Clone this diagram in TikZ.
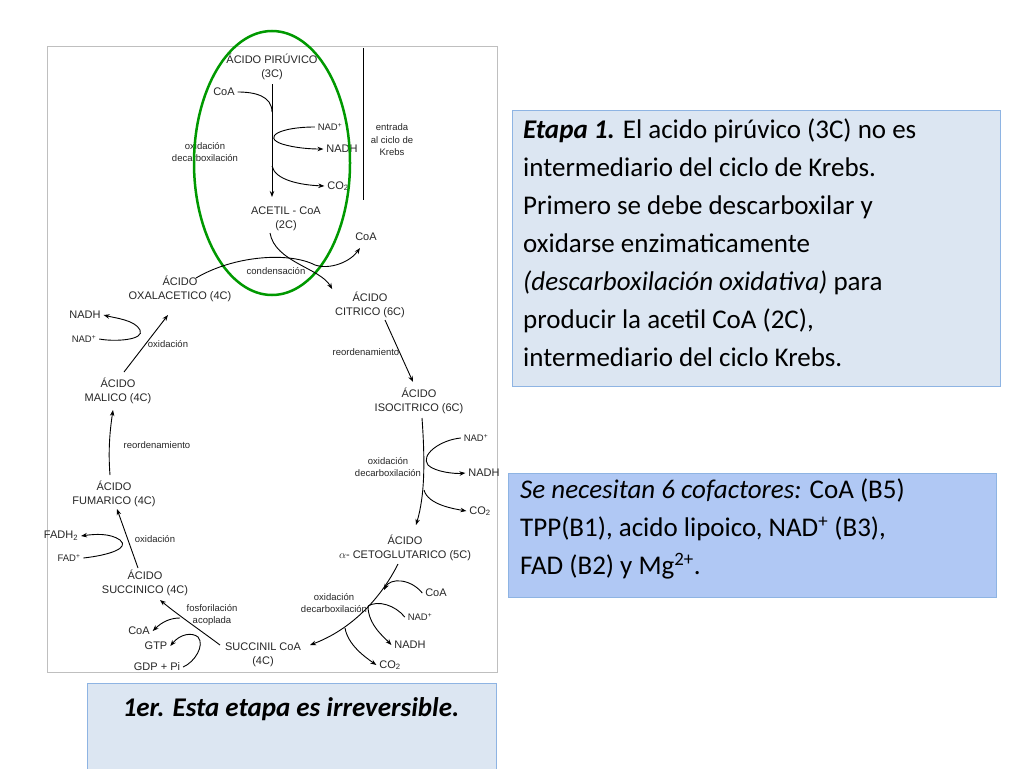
\documentclass[tikz,border=0pt]{standalone}
\usepackage{fontspec}
\setmainfont{Carlito}
\newfontfamily\figf{Liberation Sans}
\usetikzlibrary{arrows.meta}
\definecolor{boxfill}{RGB}{220,230,242}
\definecolor{boxfillb}{RGB}{176,200,244}
\definecolor{boxline}{RGB}{142,180,227}
\begin{document}
\begin{tikzpicture}[x=1pt,y=-1pt,
  lab/.style={font=\figf\fontsize{11}{14}\selectfont,align=center,inner sep=0pt,outer sep=3pt,text=black!85},
  sm/.style={font=\figf\fontsize{9.5}{12.5}\selectfont,align=center,inner sep=0pt,outer sep=3pt,text=black!85},
  ar/.style={line width=0.9pt,-{Stealth[length=6pt,width=4.5pt]}},
  ln/.style={line width=0.9pt},
  tbox/.style={draw=boxline,line width=0.8pt,fill=#1},
  big/.style={font=\fontsize{27}{38}\selectfont,align=left,inner sep=0pt,anchor=north west}]
\useasboundingbox (0,0) rectangle (1024,768);
\fill[white] (0,0) rectangle (1024,768);
\draw[black!25,line width=1pt] (47,47) rectangle (497,672);
% entry
\node[lab] (pir) at (272,67) {ÁCIDO PIRÚVICO\\(3C)};
\node[lab] (coa1) at (224,92) {CoA};
\node[lab] (acet) at (286,219) {ACETIL - CoA\\(2C)};
\coordinate (v1) at (272,84);
\coordinate (v2) at (272,197);
\draw[ar] (v1) -- (v2);
\draw[ln] (coa1.east) .. controls (255,92) and (272,96) .. (272,112);
\node[sm] (nad1) at (330,127) {NAD\textsuperscript{+}};
\node[lab] (nadh1) at (342,149) {NADH};
\node[lab] (co21) at (338,186) {CO\textsubscript{2}};
\draw[ar] (nad1.west) .. controls (280,127) and (262,137) .. (282,144) .. controls (295,148) and (310,149) .. (nadh1.west);
\draw[ar] (272,166) .. controls (275,180) and (300,185) .. (co21.west);
\node[sm] (ox1) at (205,152) {oxidación\\decarboxilación};
\draw[ln] (363,48) -- (363,200);
\node[sm] (ent) at (392,140) {entrada\\al ciclo de\\Krebs};
\draw[green!60!black,line width=2.5pt] (272,163) ellipse (78 and 132);
% cycle
\node[lab] (cit) at (370,305) {ÁCIDO\\CITRICO (6C)};
\node[lab] (oxa) at (180,289) {ÁCIDO\\OXALACETICO (4C)};
\node[lab] (coa2) at (366,237) {CoA};
\node[sm] (cond) at (276,271) {condensación};
\draw[ar] (270,233) .. controls (275,262) and (320,268) .. (cit.north west);
\draw[ar] (196,278) .. controls (235,255) and (290,252) .. (315,265) .. controls (330,270) and (350,262) .. (360,248);
\node[sm] (reo1) at (366,352) {reordenamiento};
\node[lab] (iso) at (419,401) {ÁCIDO\\ISOCITRICO (6C)};
\draw[ar] (385,320) -- (413,382);
\node[sm] (nad2) at (476,438) {NAD\textsuperscript{+}};
\node[lab] (nadh2) at (484,473) {NADH};
\node[lab] (co22) at (480,511) {CO\textsubscript{2}};
\node[sm] (ox2) at (388,467) {oxidación\\decarboxilación};
\node[lab] (ceto) at (405,548) {ÁCIDO\\$\alpha$- CETOGLUTARICO (5C)};
\draw[ar] (422,418) .. controls (425,460) and (425,495) .. (416,525);
\draw[ar] (nad2.west) .. controls (440,440) and (420,455) .. (428,465) .. controls (435,472) and (455,474) .. (nadh2.west);
\draw[ar] (424,490) .. controls (428,505) and (455,509) .. (co22.west);
\node[lab] (suc) at (263,655) {SUCCINIL CoA\\(4C)};
\draw[ar] (398,564) .. controls (380,600) and (350,630) .. (310,645);
\node[lab] (coa3) at (436,593) {CoA};
\node[sm] (nad3) at (420,617) {NAD\textsuperscript{+}};
\node[lab] (nadh3) at (410,645) {NADH};
\node[lab] (co23) at (390,665) {CO\textsubscript{2}};
\node[sm] (ox3) at (334,603) {oxidación\\decarboxilación};
\draw[ar] (coa3.west) .. controls (410,578) and (390,578) .. (384,590);
\draw[ln] (nad3.west) .. controls (395,605) and (378,600) .. (368,606);
\draw[ar] (368,606) .. controls (368,625) and (385,638) .. (nadh3.west);
\draw[ar] (345,628) .. controls (348,645) and (365,657) .. (co23.west);
\node[lab] (succ) at (145,583) {ÁCIDO\\SUCCINICO (4C)};
\node[sm] (fos) at (212,615) {fosforilación\\acoplada};
\draw[ar] (220,645) .. controls (200,630) and (178,615) .. (160,600);
\node[lab] (coa4) at (139,631) {CoA};
\node[lab] (gtp) at (156,646) {GTP};
\node[lab] (gdp) at (157,667) {GDP + Pi};
\draw[ar] (gdp.east) .. controls (195,662) and (205,645) .. (198,637) .. controls (192,632) and (180,634) .. (gtp.east);
\draw[ar] (180,618) .. controls (170,618) and (162,622) .. (coa4.east);
\node[lab] (fum) at (114,494) {ÁCIDO\\FUMARICO (4C)};
\draw[ar] (138,568) -- (117,509);
\node[lab] (fadh) at (61,536) {FADH\textsubscript{2}};
\node[sm] (fad) at (69,558) {FAD\textsuperscript{+}};
\node[sm] (ox4) at (155,539) {oxidación};
\draw[ar] (fad.east) .. controls (110,555) and (130,548) .. (120,540) .. controls (110,533) and (95,534) .. (fadh.east);
\node[lab] (mal) at (118,391) {ÁCIDO\\MALICO (4C)};
\draw[ar] (110,475) .. controls (108,450) and (110,430) .. (113,410);
\node[sm] (reo2) at (157,445) {reordenamiento};
\draw[ar] (124,372) -- (168,315);
\node[lab] (nadh4) at (85,315) {NADH};
\node[sm] (nad4) at (84,339) {NAD\textsuperscript{+}};
\node[sm] (ox5) at (168,344) {oxidación};
\draw[ar] (nad4.east) .. controls (115,342) and (145,340) .. (140,330) .. controls (135,320) and (115,318) .. (nadh4.east);
% boxes
\draw[tbox=boxfill] (512,110) rectangle (1000,386);
\node[big] (t1) at (523,119) {\textbf{\textit{Etapa 1.}} El acido pirúvico (3C) no es\\intermediario del ciclo de Krebs.\\Primero se debe descarboxilar y\\oxidarse enzimaticamente\\\textit{(descarboxilación oxidativa)} para\\producir la acetil CoA (2C),\\intermediario del ciclo Krebs.};
\draw[tbox=boxfillb] (508,473) rectangle (996,597);
\node[big] (t2) at (520,479) {\textit{Se necesitan 6 cofactores:} CoA (B5)\\TPP(B1), acido lipoico, NAD\textsuperscript{+} (B3),\\FAD (B2) y Mg\textsuperscript{2+}.};
\draw[tbox=boxfill] (87,683) rectangle (496,770);
\node[font=\fontsize{27}{30}\selectfont\bfseries\itshape,inner sep=0pt] (t3) at (291,709) {1er. Esta etapa es irreversible.};
\end{tikzpicture}
\end{document}
